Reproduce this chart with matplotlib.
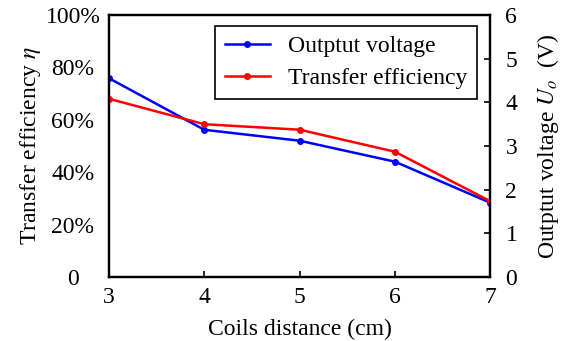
import matplotlib
matplotlib.use('Agg')
import matplotlib.pyplot as plt

# Data
distance = [3, 4, 5, 6, 7]
voltage = [4.55, 3.37, 3.12, 2.64, 1.70]          # V, right axis
efficiency = [68.0, 58.3, 56.2, 47.8, 28.9]       # %, left axis

eff_ticks = [0, 20, 40, 60, 80, 100]
eff_ticklabels = ['0', '20%', '40%', '60%', '80%', '100%']
volt_ticks = [0, 1, 2, 3, 4, 5, 6]

plt.rcParams['font.family'] = ['Liberation Serif', 'DejaVu Serif']
plt.rcParams['mathtext.fontset'] = 'stix'

fig = plt.figure(figsize=(5.68, 3.41), dpi=100)
ax = fig.add_axes([0.192, 0.188, 0.671, 0.768])
ax2 = ax.twinx()

ax.set_zorder(ax2.get_zorder() + 1)
ax.patch.set_visible(False)

l_red, = ax.plot(distance, efficiency, color='#FF0000', linewidth=1.8,
                 marker='o', markersize=4, label='Transfer efficiency')
l_blue, = ax2.plot(distance, voltage, color='#0000FF', linewidth=1.8,
                   marker='o', markersize=4, label='Outptut voltage')

ax.set_xlim(3, 7)
ax.set_ylim(0, 100)
ax2.set_ylim(0, 6)

ax.set_xticks(distance)
ax.set_yticks(eff_ticks)
ax.set_yticklabels(eff_ticklabels)
ax2.set_yticks(volt_ticks)

fs = 17
ax.tick_params(axis='x', direction='in', length=4, width=1.2, labelsize=fs, pad=7, top=False)
ax.tick_params(axis='y', length=0, labelsize=fs, pad=26)
for lbl in ax.get_yticklabels():
    lbl.set_horizontalalignment('center')
ax2.tick_params(axis='y', direction='in', length=4, width=1.2, labelsize=fs, pad=11)

for a in (ax, ax2):
    for s in a.spines.values():
        s.set_linewidth(1.6)

ax.set_xlabel('Coils distance (cm)', fontsize=fs, labelpad=8)
ax.set_ylabel(r'Transfer efficiency $\eta$', fontsize=fs, labelpad=2)
ax2.set_ylabel(r'Outptut voltage $U_o$  (V)', fontsize=fs, labelpad=13)

leg = ax.legend(handles=[l_blue, l_red], loc='upper right',
                bbox_to_anchor=(0.966, 0.958), borderaxespad=0, fontsize=fs,
                fancybox=False, framealpha=1, edgecolor='black', handlelength=1.9,
                borderpad=0.4, labelspacing=0.45)
leg.get_frame().set_linewidth(1.2)

fig.savefig('out.png', dpi=100)
